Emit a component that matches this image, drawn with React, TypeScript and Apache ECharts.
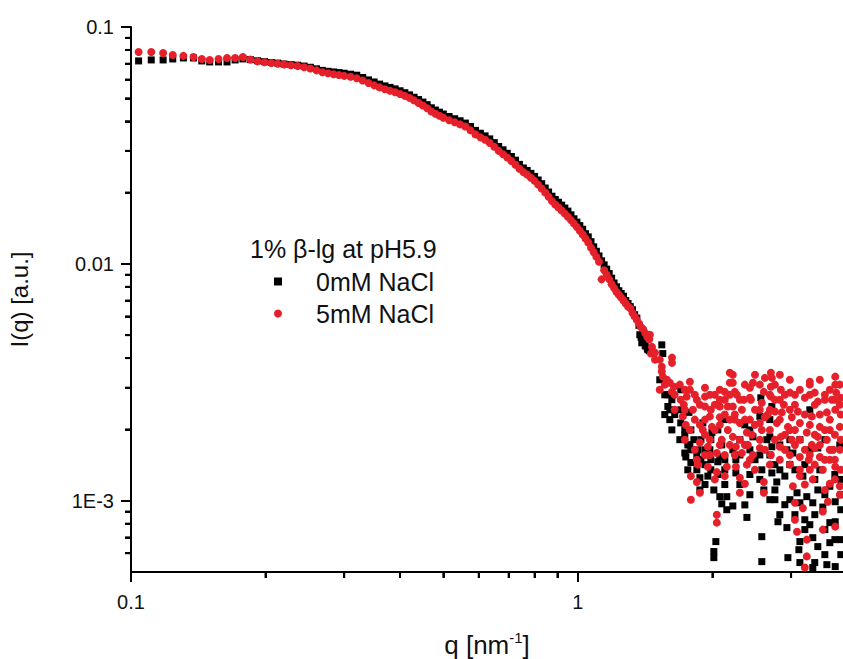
import React, { useEffect, useRef } from "react";
import * as echarts from "echarts";

// ---- data ----
const qSmooth = [
  0.104, 0.111, 0.118, 0.124, 0.131, 0.138, 0.144, 0.150, 0.157, 0.164,
  0.171, 0.178, 0.185, 0.192, 0.199, 0.206, 0.213, 0.220, 0.228, 0.236,
  0.244, 0.252, 0.260, 0.268, 0.276, 0.284, 0.292, 0.300, 0.310, 0.320,
  0.330, 0.340, 0.350, 0.360, 0.370, 0.380, 0.390, 0.400, 0.410, 0.420,
  0.430, 0.440, 0.450, 0.460, 0.470, 0.480, 0.490, 0.500, 0.515, 0.530,
  0.545, 0.560, 0.575, 0.590, 0.605, 0.620, 0.635, 0.650, 0.665, 0.680,
  0.695, 0.710, 0.725, 0.740, 0.755, 0.770, 0.785, 0.800, 0.815, 0.830,
  0.845, 0.860, 0.875, 0.890, 0.905, 0.920, 0.935, 0.950, 0.965, 0.980,
  0.995, 1.010, 1.025, 1.040, 1.055, 1.070, 1.085, 1.100, 1.115, 1.130,
  1.145, 1.160, 1.175, 1.190, 1.205, 1.220, 1.235, 1.250, 1.265, 1.280,
  1.295, 1.310, 1.325, 1.340, 1.355, 1.370, 1.385, 1.400, 1.415, 1.430,
  1.445,
];

const i0mMSmooth = [
  0.0719, 0.0726, 0.0726, 0.0733, 0.0740, 0.0740, 0.0719, 0.0712, 0.0712, 0.0712,
  0.0726, 0.0733, 0.0728, 0.0720, 0.0714, 0.0708, 0.0704, 0.0698, 0.0694, 0.0690,
  0.0684, 0.0676, 0.0666, 0.0656, 0.0650, 0.0646, 0.0642, 0.0638, 0.0632, 0.0626,
  0.0612, 0.0598, 0.0586, 0.0574, 0.0564, 0.0556, 0.0548, 0.0538, 0.0528, 0.0517,
  0.0505, 0.0494, 0.0482, 0.0470, 0.0456, 0.0446, 0.0437, 0.0429, 0.0419, 0.0410,
  0.0402, 0.0393, 0.0380, 0.0366, 0.0356, 0.0347, 0.0337, 0.0325, 0.0313, 0.0303,
  0.0293, 0.0284, 0.0274, 0.0263, 0.0254, 0.0248, 0.0241, 0.0234, 0.0226, 0.0218,
  0.0209, 0.0201, 0.0193, 0.0187, 0.0182, 0.0177, 0.0172, 0.0167, 0.0161, 0.0155,
  0.0150, 0.0145, 0.0140, 0.0134, 0.0130, 0.0124, 0.0118, 0.0113, 0.0108, 0.0103,
  0.0099, 0.0095, 0.0091, 0.0087, 0.0083, 0.0080, 0.0077, 0.0075, 0.0073, 0.0070,
  0.0068, 0.0066, 0.0064, 0.0061, 0.0059, 0.0055, 0.0049, 0.0047, 0.0045, 0.0044,
  0.0043,
];

const i5mMSmooth = [
  0.0784, 0.0784, 0.0776, 0.0762, 0.0755, 0.0747, 0.0733, 0.0726, 0.0733, 0.0740,
  0.0740, 0.0747, 0.0728, 0.0716, 0.0710, 0.0705, 0.0700, 0.0695, 0.0690, 0.0684,
  0.0676, 0.0668, 0.0656, 0.0644, 0.0638, 0.0632, 0.0627, 0.0622, 0.0617, 0.0608,
  0.0594, 0.0580, 0.0567, 0.0556, 0.0546, 0.0538, 0.0530, 0.0521, 0.0512, 0.0502,
  0.0490, 0.0478, 0.0466, 0.0454, 0.0440, 0.0430, 0.0422, 0.0414, 0.0404, 0.0396,
  0.0388, 0.0380, 0.0366, 0.0352, 0.0342, 0.0334, 0.0324, 0.0312, 0.0300, 0.0290,
  0.0281, 0.0272, 0.0262, 0.0252, 0.0244, 0.0238, 0.0231, 0.0224, 0.0216, 0.0208,
  0.0200, 0.0192, 0.0184, 0.0178, 0.0173, 0.0168, 0.0163, 0.0158, 0.0153, 0.0148,
  0.0143, 0.0138, 0.0133, 0.0128, 0.0123, 0.0117, 0.0112, 0.0107, 0.0102, 0.0086,
  0.0094, 0.0090, 0.0086, 0.0082, 0.0079, 0.0076, 0.0074, 0.0072, 0.0070, 0.0068,
  0.0066, 0.0065, 0.0062, 0.0060, 0.0058, 0.0056, 0.0054, 0.0053, 0.0051, 0.0049,
  0.0048,
];

// high-q scattered points [q, I]
const tail0mM: [number, number][] = [
  [1.376, 0.00502], [1.390, 0.00464], [1.541, 0.00455], [1.549, 0.00418], [1.434, 0.00434],
  [1.525, 0.00324], [1.699, 0.00294], [1.590, 0.00250], [1.606, 0.00242], [1.606, 0.00220],
  [1.699, 0.00213], [1.735, 0.00199], [1.790, 0.00199], [1.818, 0.00181], [1.735, 0.00159],
  [1.744, 0.00153], [1.790, 0.00164], [1.790, 0.00145], [1.885, 0.00149], [1.885, 0.00181],
  [1.984, 0.00181], [1.995, 0.00194], [2.099, 0.00172], [2.078, 0.00153], [1.875, 0.00125],
  [1.954, 0.00127], [1.875, 0.00111], [2.015, 0.00111], [2.078, 0.00104], [2.099, 0.00097],
  [2.154, 0.000916], [2.154, 0.00104], [2.015, 0.000610], [2.015, 0.000575], [2.036, 0.000672],
  [1.699, 0.00242], [1.772, 0.00236], [1.904, 0.00213], [2.567, 0.00272], [2.554, 0.00227],
  [2.689, 0.00220], [2.426, 0.00199], [2.465, 0.00186], [2.647, 0.00181], [2.717, 0.00169],
  [2.831, 0.00172], [2.936, 0.00164], [2.222, 0.00164], [2.257, 0.00149], [2.257, 0.00131],
  [2.491, 0.00149], [2.580, 0.00135], [2.717, 0.00131], [2.831, 0.00135], [2.905, 0.00127],
  [2.787, 0.00120], [2.607, 0.00111], [3.028, 0.00159], [3.304, 0.00164], [3.443, 0.00167],
  [3.701, 0.00164], [3.188, 0.00127], [3.093, 0.00108], [3.253, 0.00104], [3.443, 0.00111],
  [3.663, 0.00115], [3.139, 0.00098], [3.355, 0.00098], [3.533, 0.00094], [3.766, 0.00099],
  [2.364, 0.00096], [2.389, 0.00085], [2.831, 0.000873], [2.804, 0.000815], [2.936, 0.000770],
  [3.139, 0.000672], [3.355, 0.000698], [3.663, 0.000808], [3.766, 0.000815], [2.580, 0.000705],
  [3.123, 0.000621], [3.443, 0.000640], [3.663, 0.000665], [2.951, 0.000575], [2.580, 0.000553],
  [3.139, 0.000548], [3.389, 0.000548], [3.607, 0.000537], [3.766, 0.000527], [3.355, 0.000522],
  [2.222, 0.00095], [2.717, 0.00250], [2.689, 0.00186], [3.304, 0.00242], [2.132, 0.00220],
  [2.364, 0.00209], [2.981, 0.00181], [3.139, 0.00181], [3.570, 0.00181], [3.856, 0.00172],
  [3.876, 0.00123], [2.426, 0.00164], [3.060, 0.00135], [3.479, 0.00135], [3.876, 0.000916],
  [3.304, 0.000792], [3.876, 0.000685], [2.760, 0.00101],
  [1.565, 0.00280], [1.565, 0.00231], [1.623, 0.00267], [1.623, 0.00199], [1.691, 0.00181],
  [1.762, 0.00172], [1.762, 0.00135], [1.846, 0.00135], [1.846, 0.00156], [1.925, 0.00164],
  [1.925, 0.00117], [1.984, 0.00149], [1.984, 0.00135], [2.057, 0.00199], [2.057, 0.00129],
  [2.132, 0.00149], [2.132, 0.00117], [2.304, 0.00181], [2.304, 0.00156], [2.304, 0.00117],
  [2.426, 0.00129], [2.426, 0.00106], [2.554, 0.00156], [2.554, 0.00123], [2.689, 0.00156],
  [2.689, 0.00101], [2.760, 0.00142], [2.760, 0.00111], [2.981, 0.00142], [2.981, 0.00101],
  [3.220, 0.00142], [3.220, 0.000831], [3.220, 0.000755], [3.390, 0.00123], [3.390, 0.000873],
  [3.570, 0.00106], [3.570, 0.000755], [3.570, 0.000592], [3.759, 0.00129], [3.759, 0.000685],
  [3.876, 0.00106], [3.876, 0.000592], [3.060, 0.000873], [2.905, 0.000962],
  [1.590, 0.00280], [1.647, 0.00231], [1.735, 0.00190], [1.781, 0.00172], [1.856, 0.00164],
  [1.925, 0.00142], [1.974, 0.00164], [2.057, 0.00146], [2.132, 0.00135],
];

const tail5mM: [number, number][] = [
  [1.449, 0.00502], [1.465, 0.00446], [1.457, 0.00418], [1.488, 0.00394], [1.624, 0.00402],
  [1.624, 0.00382], [1.541, 0.00368], [1.549, 0.00334], [1.606, 0.00315], [1.525, 0.00294],
  [1.641, 0.00303], [1.781, 0.00318], [1.781, 0.00294], [1.752, 0.00275], [1.925, 0.00300],
  [1.925, 0.00275], [1.846, 0.00267], [1.699, 0.00267], [2.078, 0.00267], [2.078, 0.00250],
  [1.925, 0.00250], [1.809, 0.00242], [1.717, 0.00227], [1.974, 0.00227], [2.078, 0.00225],
  [2.165, 0.00250], [1.744, 0.00209], [1.781, 0.00199], [1.904, 0.00199], [1.995, 0.00205],
  [1.875, 0.00176], [1.954, 0.00169], [2.046, 0.00159], [1.974, 0.00156], [1.846, 0.00149],
  [1.856, 0.00142], [1.954, 0.00139], [2.154, 0.00139], [1.790, 0.00127], [2.046, 0.00132],
  [1.846, 0.00120], [1.875, 0.00108], [1.790, 0.00101], [2.132, 0.00127], [2.046, 0.000873],
  [2.046, 0.000808], [2.188, 0.00315], [2.188, 0.00347], [2.222, 0.00340], [2.222, 0.00315],
  [2.491, 0.00340], [2.465, 0.00315], [2.703, 0.00347], [2.717, 0.00330], [2.703, 0.00303],
  [2.846, 0.00294], [2.981, 0.00286], [3.304, 0.00318], [3.304, 0.00309], [3.766, 0.00334],
  [3.766, 0.00309], [3.785, 0.00286], [2.439, 0.00267], [2.580, 0.00259], [2.703, 0.00275],
  [2.831, 0.00267], [3.443, 0.00262], [2.222, 0.00250], [2.328, 0.00242], [2.491, 0.00242],
  [2.689, 0.00242], [2.860, 0.00236], [3.107, 0.00238], [3.338, 0.00227], [3.607, 0.00236],
  [3.766, 0.00242], [2.304, 0.00213], [2.426, 0.00220], [2.554, 0.00213], [2.787, 0.00213],
  [2.951, 0.00205], [3.139, 0.00213], [3.479, 0.00205], [3.663, 0.00199], [3.856, 0.00205],
  [2.222, 0.00186], [2.389, 0.00194], [2.580, 0.00199], [2.846, 0.00186], [3.012, 0.00181],
  [3.253, 0.00194], [3.443, 0.00186], [3.607, 0.00181], [2.257, 0.00169], [2.401, 0.00172],
  [2.554, 0.00167], [2.831, 0.00169], [3.139, 0.00153], [3.287, 0.00149], [3.479, 0.00153],
  [3.663, 0.00149], [2.328, 0.00159], [2.257, 0.00139], [2.389, 0.00142], [3.304, 0.00135],
  [3.533, 0.00135], [3.766, 0.00139], [3.139, 0.00127], [3.355, 0.00123], [3.663, 0.00118],
  [2.304, 0.00125], [2.364, 0.00118], [2.607, 0.00120], [3.028, 0.00115], [3.856, 0.00115],
  [2.304, 0.00108], [2.607, 0.00108], [3.060, 0.00098], [3.188, 0.00093], [3.626, 0.00099],
  [3.060, 0.000831], [3.533, 0.00090], [3.093, 0.00074], [3.533, 0.000755], [3.253, 0.000685],
  [3.253, 0.000582], [3.220, 0.000522], [3.766, 0.000777],
  [1.925, 0.00220], [2.025, 0.00280], [2.132, 0.00288], [2.269, 0.00280], [2.352, 0.00267],
  [2.426, 0.00300], [2.607, 0.00288], [2.660, 0.00231], [2.760, 0.00267], [2.890, 0.00254],
  [3.012, 0.00225], [3.060, 0.00280], [3.220, 0.00272], [3.389, 0.00286], [3.570, 0.00280],
  [3.700, 0.00267], [3.876, 0.00272], [2.465, 0.00156], [2.703, 0.00156], [2.981, 0.00142],
  [3.389, 0.00167], [3.720, 0.00164], [3.876, 0.00181], [3.876, 0.00135], [2.165, 0.00199],
  [2.099, 0.00181], [2.452, 0.00190], [2.245, 0.00220], [2.981, 0.00199], [3.338, 0.00172],
  [3.876, 0.00231], [1.726, 0.00254], [1.827, 0.00280], [1.984, 0.00242], [1.541, 0.00351],
  [1.582, 0.00324], [1.623, 0.00288], [1.691, 0.00309], [1.735, 0.00294], [1.488, 0.00422],
  [1.525, 0.00394],
  [2.245, 0.00288], [2.245, 0.00231], [2.245, 0.00156], [2.304, 0.00267], [2.304, 0.00181],
  [2.364, 0.00309], [2.364, 0.00220], [2.364, 0.00172], [2.426, 0.00272], [2.426, 0.00149],
  [2.489, 0.00209], [2.489, 0.00135], [2.554, 0.00309], [2.554, 0.00242], [2.554, 0.00181],
  [2.621, 0.00330], [2.621, 0.00225], [2.621, 0.00164], [2.689, 0.00280], [2.689, 0.00199],
  [2.689, 0.00142], [2.760, 0.00309], [2.760, 0.00238], [2.760, 0.00181], [2.831, 0.00340],
  [2.831, 0.00220], [2.831, 0.00149], [2.905, 0.00280], [2.905, 0.00190], [2.905, 0.00164],
  [2.981, 0.00324], [2.981, 0.00242], [2.981, 0.00156], [3.060, 0.00254], [3.060, 0.00199],
  [3.060, 0.00172], [3.139, 0.00294], [3.139, 0.00181], [3.139, 0.00135], [3.220, 0.00231],
  [3.220, 0.00164], [3.220, 0.00117], [3.304, 0.00280], [3.304, 0.00209], [3.304, 0.00156],
  [3.390, 0.00254], [3.390, 0.00190], [3.390, 0.00142], [3.479, 0.00324], [3.479, 0.00231],
  [3.479, 0.00172], [3.570, 0.00267], [3.570, 0.00199], [3.570, 0.00149], [3.570, 0.00111],
  [3.663, 0.00294], [3.663, 0.00220], [3.663, 0.00164], [3.759, 0.00267], [3.759, 0.00190],
  [3.759, 0.00149], [3.759, 0.00123], [3.856, 0.00309], [3.856, 0.00254], [3.856, 0.00164],
  [3.856, 0.00106],
  [1.565, 0.00309], [1.647, 0.00280], [1.647, 0.00242], [1.735, 0.00242], [1.735, 0.00181],
  [1.827, 0.00220], [1.827, 0.00164], [1.875, 0.00254], [1.875, 0.00209], [1.925, 0.00190],
  [1.925, 0.00156], [1.974, 0.00280], [1.974, 0.00181], [2.025, 0.00254], [2.025, 0.00199],
  [2.025, 0.00123], [2.078, 0.00294], [2.078, 0.00209], [2.078, 0.00172], [2.132, 0.00267],
  [2.132, 0.00231], [2.132, 0.00156], [2.188, 0.00280], [2.188, 0.00220], [2.188, 0.00172],
];

const xMinorTicks = [0.2, 0.3, 0.4, 0.5, 0.6, 0.7, 0.8, 0.9, 2, 3];
const yMinorTicks = [
  0.0006, 0.0007, 0.0008, 0.0009,
  0.002, 0.003, 0.004, 0.005, 0.006, 0.007, 0.008, 0.009,
  0.02, 0.03, 0.04, 0.05, 0.06, 0.07, 0.08, 0.09,
];

const X_MIN = 0.1;
const X_MAX = 3.92;
const Y_MIN = 0.0005;
const Y_MAX = 0.1;

const SERIES_0 = "0mM NaCl";
const SERIES_5 = "5mM NaCl";
const LEGEND_TITLE = "1% β-lg at pH5.9";

const FONT = "'Liberation Sans', Arial, sans-serif";
const RED = "#e5202a";

export default function App() {
  const ref = useRef<HTMLDivElement>(null);

  useEffect(() => {
    if (!ref.current) return;
    const chart = echarts.init(ref.current, undefined, { renderer: "svg" });

    const data0 = qSmooth
      .map((q, k) => [q, i0mMSmooth[k]])
      .concat(tail0mM.map((p) => [p[0], p[1]]));
    const data5 = qSmooth
      .map((q, k) => [q, i5mMSmooth[k]])
      .concat(tail5mM.map((p) => [p[0], p[1]]));

    const tickStyle = { stroke: "#000", lineWidth: 2 };

    const xLabel = (v: number) => {
      const e = Math.log10(v);
      if (Math.abs(e + 1) < 1e-6) return "0.1";
      if (Math.abs(e) < 1e-6) return "1";
      return "";
    };
    const yLabel = (v: number) => {
      const e = Math.log10(v);
      if (Math.abs(e + 1) < 1e-6) return "0.1";
      if (Math.abs(e + 2) < 1e-6) return "0.01";
      if (Math.abs(e + 3) < 1e-6) return "1E-3";
      return "";
    };

    const option: any = {
      animation: false,
      backgroundColor: "#fff",
      textStyle: { fontFamily: FONT },
      grid: {
        left: 131,
        right: 0,
        top: 27,
        bottom: 87,
        containLabel: false,
        outerBoundsMode: "none",
      },
      legend: {
        orient: "vertical",
        left: 274,
        top: 269,
        padding: 0,
        itemWidth: 8,
        itemHeight: 8,
        itemGap: 7,
        selectedMode: false,
        data: [
          { name: SERIES_0, icon: "rect" },
          { name: SERIES_5, icon: "circle" },
        ],
        textStyle: {
          fontFamily: FONT,
          fontSize: 25,
          color: "#111",
          lineHeight: 25,
          padding: [0, 0, 0, 29],
        },
      },
      graphic: [
        {
          type: "text",
          left: 250,
          top: 236,
          style: {
            text: LEGEND_TITLE,
            font: `25px ${FONT}`,
            fill: "#111",
          },
        },
      ],
      xAxis: [
        {
          type: "log",
          logBase: 10,
          min: X_MIN,
          max: X_MAX,
          position: "bottom",
          name: "q [nm{sup|-1}]",
          nameLocation: "middle",
          nameGap: 58,
          nameTextStyle: {
            fontFamily: FONT,
            fontSize: 26,
            color: "#111",
            lineHeight: 30,
            rich: {
              sup: { fontSize: 15, verticalAlign: "top", lineHeight: 16, fontFamily: FONT, color: "#111" },
            },
          },
          axisLine: { show: true, onZero: false, lineStyle: { color: "#000", width: 2 } },
          axisTick: { show: true, inside: false, length: 10, lineStyle: { color: "#000", width: 2 } },
          axisLabel: {
            fontFamily: FONT,
            fontSize: 20,
            color: "#111",
            margin: 20,
            showMinLabel: true,
            showMaxLabel: false,
            formatter: xLabel,
          },
          splitLine: { show: false },
        },
        {
          type: "log",
          logBase: 10,
          min: X_MIN,
          max: X_MAX,
          position: "bottom",
          offset: 0,
          axisLine: { show: false, onZero: false },
          axisTick: {
            show: true,
            inside: false,
            length: 6,
            customValues: xMinorTicks,
            lineStyle: { color: "#000", width: 2 },
          },
          axisLabel: { show: false },
          splitLine: { show: false },
        },
      ],
      yAxis: [
        {
          type: "log",
          logBase: 10,
          min: Y_MIN,
          max: Y_MAX,
          position: "left",
          name: "I(q) [a.u.]",
          nameLocation: "middle",
          nameGap: 100,
          nameTextStyle: { fontFamily: FONT, fontSize: 24, color: "#111" },
          axisLine: { show: true, onZero: false, lineStyle: { color: "#000", width: 2 } },
          axisTick: { show: true, inside: false, length: 10, lineStyle: { color: "#000", width: 2 } },
          axisLabel: {
            fontFamily: FONT,
            fontSize: 20,
            color: "#111",
            margin: 17,
            showMinLabel: false,
            showMaxLabel: true,
            formatter: yLabel,
          },
          splitLine: { show: false },
        },
        {
          type: "log",
          logBase: 10,
          min: Y_MIN,
          max: Y_MAX,
          position: "left",
          offset: 0,
          axisLine: { show: false, onZero: false },
          axisTick: {
            show: true,
            inside: false,
            length: 6,
            customValues: yMinorTicks,
            lineStyle: { color: "#000", width: 2 },
          },
          axisLabel: { show: false },
          splitLine: { show: false },
        },
      ],
      series: [
        {
          name: SERIES_0,
          type: "scatter",
          xAxisIndex: 0,
          yAxisIndex: 0,
          symbol: "rect",
          symbolSize: 7,
          itemStyle: { color: "#000", opacity: 1 },
          data: data0,
          z: 2,
        },
        {
          name: SERIES_5,
          type: "scatter",
          xAxisIndex: 0,
          yAxisIndex: 0,
          symbol: "circle",
          symbolSize: 8,
          itemStyle: { color: RED, opacity: 1 },
          data: data5,
          z: 3,
        },
        {
          name: "xMinorTicks",
          type: "custom",
          xAxisIndex: 0,
          yAxisIndex: 0,
          silent: true,
          clip: false,
          data: xMinorTicks.map((v) => [v, Y_MIN]),
          renderItem: (_p: any, api: any) => {
            const pt = api.coord([api.value(0), api.value(1)]);
            return {
              type: "line",
              shape: { x1: pt[0], y1: pt[1], x2: pt[0], y2: pt[1] + 6 },
              style: tickStyle,
            };
          },
          z: 1,
        },
        {
          name: "yMinorTicks",
          type: "custom",
          xAxisIndex: 0,
          yAxisIndex: 0,
          silent: true,
          clip: false,
          data: yMinorTicks.map((v) => [X_MIN, v]),
          renderItem: (_p: any, api: any) => {
            const pt = api.coord([api.value(0), api.value(1)]);
            return {
              type: "line",
              shape: { x1: pt[0] - 6, y1: pt[1], x2: pt[0], y2: pt[1] },
              style: tickStyle,
            };
          },
          z: 1,
        },
      ],
    };

    chart.setOption(option);
    return () => chart.dispose();
  }, []);

  return (
    <div
      ref={ref}
      style={{ position: "absolute", left: 0, top: 0, width: 843, height: 659, background: "#fff" }}
    />
  );
}
